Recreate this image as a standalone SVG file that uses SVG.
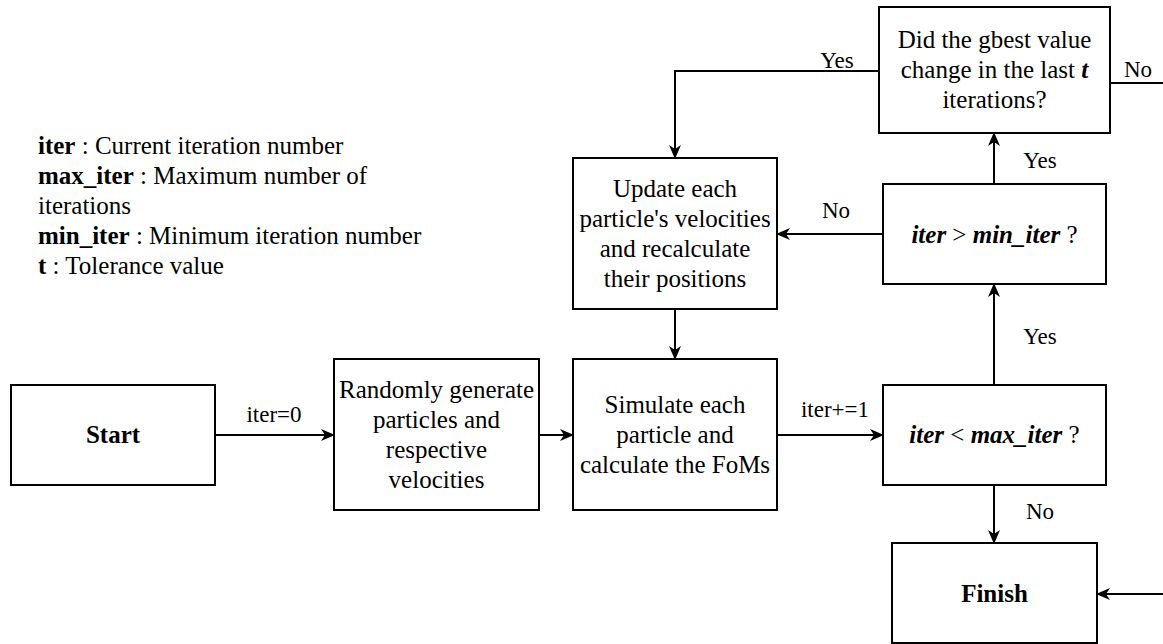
<svg xmlns="http://www.w3.org/2000/svg" width="1163" height="644" viewBox="0 0 1163 644">
<style>
.box{fill:#fff;stroke:#000;stroke-width:2}
.t{font-family:"Liberation Serif","Times New Roman",serif;font-size:25px;fill:#000;text-anchor:middle}
.lg{font-family:"Liberation Serif","Times New Roman",serif;font-size:25px;fill:#000}
.lb{font-family:"Liberation Serif","Times New Roman",serif;font-size:23px;fill:#000;text-anchor:middle}
.b{font-weight:bold}
.bi{font-weight:bold;font-style:italic}
.c{fill:none;stroke:#000;stroke-width:2}
</style>
<defs>
<marker id="ah" viewBox="0 0 14 12" refX="13" refY="6" markerWidth="14" markerHeight="12" orient="auto" markerUnits="userSpaceOnUse">
<path d="M0,0 L14,6 L0,12 L4,6 Z" fill="#000"/>
</marker>
</defs>
<g id="legend">
<text class="lg" x="38" y="154"><tspan class="b">iter</tspan> : Current iteration number</text>
<text class="lg" x="38" y="184"><tspan class="b">max_iter</tspan> : Maximum number of</text>
<text class="lg" x="38" y="214">iterations</text>
<text class="lg" x="38" y="244"><tspan class="b">min_iter</tspan> : Minimum iteration number</text>
<text class="lg" x="38" y="274"><tspan class="b">t</tspan> : Tolerance value</text>
</g>
<g id="connectors">
<line class="c" x1="215" y1="435" x2="334" y2="435" marker-end="url(#ah)"/>
<text class="lb" x="274" y="422">iter=0</text>
<line class="c" x1="539" y1="435" x2="573" y2="435" marker-end="url(#ah)"/>
<line class="c" x1="777" y1="435" x2="883" y2="435" marker-end="url(#ah)"/>
<text class="lb" x="835" y="417">iter+=1</text>
<line class="c" x1="994" y1="385" x2="994" y2="284" marker-end="url(#ah)"/>
<text class="lb" x="1040" y="344">Yes</text>
<line class="c" x1="883" y1="234" x2="777" y2="234" marker-end="url(#ah)"/>
<text class="lb" x="836" y="218">No</text>
<line class="c" x1="675" y1="309" x2="675" y2="359" marker-end="url(#ah)"/>
<line class="c" x1="994" y1="184" x2="994" y2="133" marker-end="url(#ah)"/>
<text class="lb" x="1040" y="168">Yes</text>
<path class="c" d="M879,71 H675 V158" marker-end="url(#ah)"/>
<text class="lb" x="837" y="68">Yes</text>
<path class="c" d="M1110,83 H1175 V594 H1097" marker-end="url(#ah)"/>
<text class="lb" x="1138" y="77">No</text>
<line class="c" x1="994" y1="485" x2="994" y2="543" marker-end="url(#ah)"/>
<text class="lb" x="1040" y="519">No</text>
</g>
<g id="start">
<rect class="box" x="11" y="385" width="204" height="100"/>
<text class="t b" x="113" y="443">Start</text>
</g>
<g id="generate">
<rect class="box" x="334" y="359" width="205" height="151"/>
<text class="t" x="436.5" y="398">Randomly generate</text>
<text class="t" x="436.5" y="428">particles and</text>
<text class="t" x="436.5" y="458">respective</text>
<text class="t" x="436.5" y="488">velocities</text>
</g>
<g id="simulate">
<rect class="box" x="573" y="359" width="204" height="151"/>
<text class="t" x="675" y="413">Simulate each</text>
<text class="t" x="675" y="443">particle and</text>
<text class="t" x="675" y="473">calculate the FoMs</text>
</g>
<g id="update">
<rect class="box" x="573" y="158" width="204" height="151"/>
<text class="t" x="675" y="197">Update each</text>
<text class="t" x="675" y="227">particle's velocities</text>
<text class="t" x="675" y="257">and recalculate</text>
<text class="t" x="675" y="287">their positions</text>
</g>
<g id="maxcheck">
<rect class="box" x="883" y="385" width="223" height="100"/>
<text class="t" x="994.5" y="443"><tspan class="bi">iter</tspan> &lt; <tspan class="bi">max_iter</tspan> ?</text>
</g>
<g id="mincheck">
<rect class="box" x="883" y="184" width="223" height="100"/>
<text class="t" x="994.5" y="243"><tspan class="bi">iter</tspan> &gt; <tspan class="bi">min_iter</tspan> ?</text>
</g>
<g id="gbest">
<rect class="box" x="879" y="7" width="231" height="126"/>
<text class="t" x="994.5" y="48">Did the gbest value</text>
<text class="t" x="994.5" y="78">change in the last <tspan class="bi">t</tspan></text>
<text class="t" x="994.5" y="108">iterations?</text>
</g>
<g id="finish">
<rect class="box" x="892" y="543" width="205" height="100"/>
<text class="t b" x="994.5" y="602">Finish</text>
</g>
</svg>
